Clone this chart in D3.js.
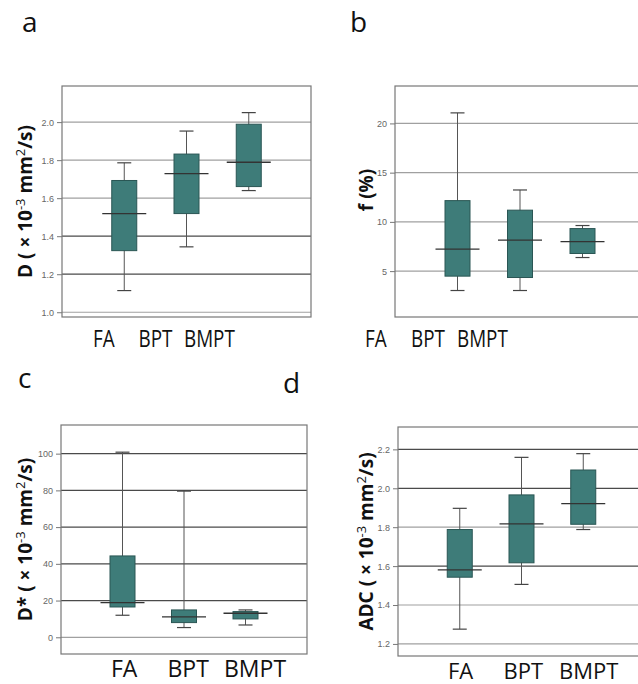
<!DOCTYPE html>
<html>
<head>
<meta charset="utf-8">
<script src="https://cdn.jsdelivr.net/npm/d3@7"></script>
<style>
  body { margin: 0; background: #fff; }
  svg { display: block; }
  .tick text { font-family: "Liberation Sans Narrow", sans-serif; font-size: 9px; fill: #666; }
  .ytitle { font-family: "Open Sans", sans-serif; font-weight: bold; font-size: 19px; fill: #111; }
  .cat { font-family: "Open Sans", sans-serif; fill: #111; }
  .letter { font-family: "Open Sans", sans-serif; font-size: 28px; fill: #111; }
</style>
</head>
<body>
<svg width="638" height="684"></svg>
<script>
// groups on the x axis
const groups = ["FA", "BPT", "BMPT"];

// D (x10^-3 mm2/s)
const dLow  = [1.114, 1.344, 1.640];
const dQ1   = [1.324, 1.519, 1.661];
const dMed  = [1.519, 1.729, 1.789];
const dQ3   = [1.693, 1.832, 1.989];
const dHigh = [1.786, 1.953, 2.050];
const dTicks = [1.0, 1.2, 1.4, 1.6, 1.8, 2.0];

// f (%)
const fLow  = [3.03, 3.03, 6.38];
const fQ1   = [4.49, 4.35, 6.79];
const fMed  = [7.23, 8.15, 8.00];
const fQ3   = [12.16, 11.19, 9.32];
const fHigh = [21.07, 13.24, 9.63];
const fTicks = [5, 10, 15, 20];

// D* (x10^-3 mm2/s)
const dsLow  = [12.0, 5.3, 6.7];
const dsQ1   = [16.5, 8.0, 10.0];
const dsMed  = [18.9, 11.1, 13.1];
const dsQ3   = [44.3, 14.9, 14.0];
const dsHigh = [100.8, 79.6, 14.9];
const dsTicks = [0, 20, 40, 60, 80, 100];

// ADC (x10^-3 mm2/s)
const adcLow  = [1.276, 1.506, 1.788];
const adcQ1   = [1.543, 1.617, 1.815];
const adcMed  = [1.581, 1.817, 1.921];
const adcQ3   = [1.788, 1.966, 2.094];
const adcHigh = [1.897, 2.159, 2.178];
const adcTicks = [1.2, 1.4, 1.6, 1.8, 2.0, 2.2];

function boxes(lo, q1, med, q3, hi) {
  return groups.map((g, i) => ({ g: g, lo: lo[i], q1: q1[i], med: med[i], q3: q3[i], hi: hi[i] }));
}

const svg = d3.select("svg");
svg.append("rect").attr("width", 638).attr("height", 684).attr("fill", "#fff");

const panels = [
  { letter: "a", lx: 22, ly: 32, left: 62, top: 86, right: 311, bottom: 317,
    domain: [0.975, 2.19], ticks: dTicks, fmt: d3.format(".1f"), dark: [1.2, 1.4],
    data: boxes(dLow, dQ1, dMed, dQ3, dHigh),
    title: ["D ( \u00d7 10", "-3", " mm", "2", "/s)"], tx: 32,
    catRange: [93, 184], catY: 347, catSize: 23, squeeze: 0.82 },
  { letter: "b", lx: 350, ly: 32, left: 395, top: 86, right: 645, bottom: 317,
    domain: [0.34, 23.8], ticks: fTicks, fmt: d3.format("d"), dark: [],
    data: boxes(fLow, fQ1, fMed, fQ3, fHigh),
    title: ["f (%)"], tx: 373, ty: 190,
    catRange: [365, 457], catY: 347, catSize: 23, squeeze: 0.82 },
  { letter: "c", lx: 18, ly: 388, left: 61, top: 425, right: 307, bottom: 654,
    domain: [-9.1, 115.6], ticks: dsTicks, fmt: d3.format("d"), dark: [20, 40, 60, 80, 100],
    data: boxes(dsLow, dsQ1, dsMed, dsQ3, dsHigh),
    title: ["D* ( \u00d7 10", "-3", " mm", "2", "/s)"], tx: 32,
    catRange: [111, 224], catY: 677, catSize: 23, squeeze: 1 },
  { letter: "d", lx: 283, ly: 393, left: 398, top: 427, right: 645, bottom: 656,
    domain: [1.138, 2.315], ticks: adcTicks, fmt: d3.format(".1f"), dark: [2.2, 2.0, 1.6],
    data: boxes(adcLow, adcQ1, adcMed, adcQ3, adcHigh),
    title: ["ADC ( \u00d7 10", "-3", " mm", "2", "/s)"], tx: 373,
    catRange: [448, 559], catY: 679, catSize: 22, squeeze: 1 }
];

const boxW = 25, capW = 14, medW = 44;

panels.forEach(p => {
  const w = p.right - p.left, h = p.bottom - p.top;
  const x = d3.scalePoint().domain(groups).range([0, w]).padding(1);
  const y = d3.scaleLinear().domain(p.domain).range([h, 0]);

  svg.append("text").attr("class", "letter").attr("x", p.lx).attr("y", p.ly).text(p.letter);

  const g = svg.append("g").attr("transform", "translate(" + p.left + "," + p.top + ")");

  // grid lines
  g.selectAll(".grid")
    .data(p.ticks)
    .enter().append("line")
      .attr("x1", 0).attr("x2", w)
      .attr("y1", d => y(d)).attr("y2", d => y(d))
      .attr("stroke", d => p.dark.some(t => Math.abs(t - d) < 1e-9) ? "#4a4a4a" : "#a0a0a0")
      .attr("stroke-width", 1.2);

  // frame
  g.append("rect").attr("width", w).attr("height", h)
    .attr("fill", "none").attr("stroke", "#777").attr("stroke-width", 1.2);

  g.append("g")
    .call(d3.axisLeft(y).tickValues(p.ticks).tickFormat(p.fmt).tickSize(5).tickPadding(3))
    .call(a => a.select(".domain").remove())
    .call(a => a.selectAll(".tick line").attr("stroke", "#777"));

  const b = g.selectAll(".box").data(p.data).enter().append("g");

  b.append("line")
    .attr("x1", d => x(d.g)).attr("x2", d => x(d.g))
    .attr("y1", d => y(d.lo)).attr("y2", d => y(d.hi))
    .attr("stroke", "#555").attr("stroke-width", 1);
  b.append("line")
    .attr("x1", d => x(d.g) - capW / 2).attr("x2", d => x(d.g) + capW / 2)
    .attr("y1", d => y(d.hi)).attr("y2", d => y(d.hi))
    .attr("stroke", "#444").attr("stroke-width", 1.2);
  b.append("line")
    .attr("x1", d => x(d.g) - capW / 2).attr("x2", d => x(d.g) + capW / 2)
    .attr("y1", d => y(d.lo)).attr("y2", d => y(d.lo))
    .attr("stroke", "#444").attr("stroke-width", 1.2);
  b.append("rect")
    .attr("x", d => x(d.g) - boxW / 2)
    .attr("y", d => y(d.q3))
    .attr("width", boxW)
    .attr("height", d => y(d.q1) - y(d.q3))
    .attr("fill", "#3e7c79").attr("stroke", "#2a5654").attr("stroke-width", 1);
  b.append("line")
    .attr("x1", d => x(d.g) - medW / 2).attr("x2", d => x(d.g) + medW / 2)
    .attr("y1", d => y(d.med)).attr("y2", d => y(d.med))
    .attr("stroke", "#333").attr("stroke-width", 1.3);

  // category labels
  const lx = d3.scalePoint().domain(groups).range(p.catRange);
  const cg = svg.append("g")
    .attr("transform", "translate(" + p.catRange[0] + "," + p.catY + ") scale(" + p.squeeze + ",1)");
  cg.selectAll("text").data(groups).enter().append("text")
    .attr("class", "cat").style("font-size", p.catSize + "px")
    .attr("x", d => (lx(d) - p.catRange[0]) / p.squeeze)
    .text(d => d);

  // y title, superscripts shifted by a fixed amount
  const ty = p.ty !== undefined ? p.ty : p.top + h / 2;
  const t = svg.append("text").attr("class", "ytitle")
    .attr("transform", "translate(" + p.tx + "," + ty + ") rotate(-90)")
    .attr("text-anchor", "middle");
  p.title.forEach((s, i) => {
    const sup = i % 2 === 1;
    t.append("tspan")
      .attr("dy", sup ? -7 : (i > 0 ? 7 : 0))
      .style("font-size", sup ? "13px" : null)
      .style("font-weight", sup ? "normal" : null)
      .text(s);
  });
});
</script>
</body>
</html>
